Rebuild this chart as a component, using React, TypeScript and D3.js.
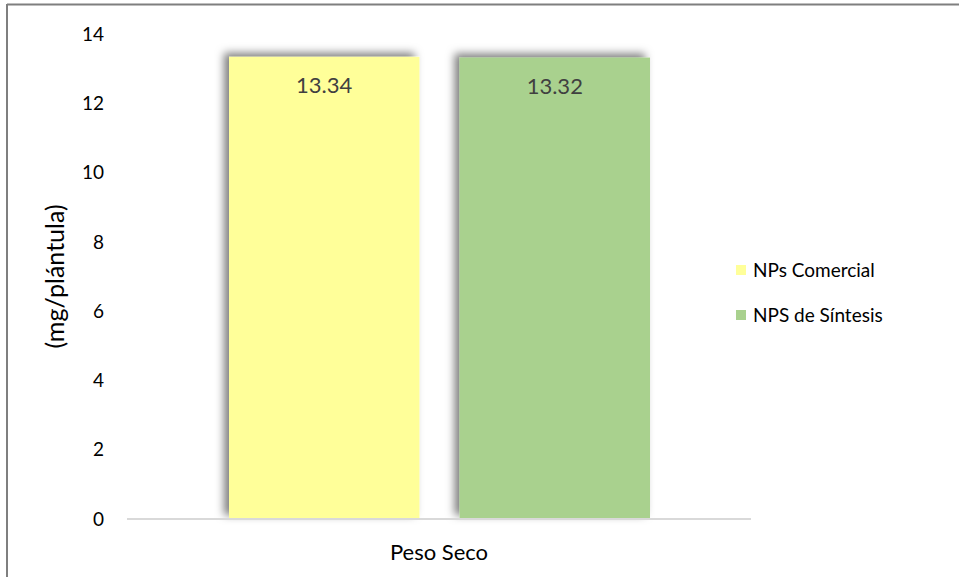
import React from "react";
import * as d3 from "d3";

const categories = ["Peso Seco"];
const seriesNames = ["NPs Comercial", "NPS de Síntesis"];
const seriesValues = [13.34, 13.32];
const seriesColors = ["#FFFF99", "#A9D18E"];
const yTicks = [0, 2, 4, 6, 8, 10, 12, 14];
const yTitle = "(mg/plántula)";

export default function App() {
  const W = 959, H = 577;
  const font = "Lato, 'Open Sans', sans-serif";
  const y = d3.scaleLinear().domain([0, 14]).range([519, 34]);
  const x0 = d3.scaleBand().domain(categories).range([127, 751]);
  const inner = d3.scaleBand().domain(seriesNames).range([229, 650]).paddingInner(0.174);
  return (
    <svg width={W} height={H} style={{ position: "absolute", left: 0, top: 0 }}>
      <defs>
        <filter id="sh" x="-20%" y="-20%" width="140%" height="140%">
          <feDropShadow dx="-5" dy="-4" stdDeviation="4" floodColor="#000" floodOpacity="0.5" />
        </filter>
      </defs>
      <rect x={0} y={0} width={W} height={H} fill="#fff" />
      <line x1={7} y1={4.5} x2={W} y2={4.5} stroke="#7f7f7f" strokeWidth={2} />
      <line x1={7} y1={4} x2={7} y2={H} stroke="#7f7f7f" strokeWidth={2} />
      {yTicks.map((t) => (
        <text key={t} x={104} y={y(t)} dy="0.35em" textAnchor="end" fontFamily={font} fontSize={19} fill="#000">
          {t}
        </text>
      ))}
      <text
        transform={`translate(64,${(y(0) + y(14)) / 2}) rotate(-90)`}
        textAnchor="middle"
        fontFamily={font}
        fontSize={25}
        fill="#000"
      >
        {yTitle}
      </text>
      {seriesNames.map((s, i) => (
        <g key={s}>
          <rect
            x={inner(s)!}
            y={y(seriesValues[i])}
            width={inner.bandwidth()}
            height={y(0) - y(seriesValues[i])}
            fill={seriesColors[i]}
            filter="url(#sh)"
          />
          <text
            x={inner(s)! + inner.bandwidth() / 2}
            y={y(seriesValues[i]) + 36}
            textAnchor="middle"
            fontFamily={font}
            fontSize={22}
            fill="#404040"
          >
            {seriesValues[i].toFixed(2)}
          </text>
        </g>
      ))}
      <line x1={x0.range()[0]} x2={x0.range()[1]} y1={519} y2={519} stroke="#d9d9d9" strokeWidth={2} />
      {categories.map((c) => (
        <text key={c} x={x0(c)! + x0.bandwidth() / 2} y={560} textAnchor="middle" fontFamily={font} fontSize={22} fill="#000">
          {c}
        </text>
      ))}
      {seriesNames.map((s, i) => (
        <g key={s} transform={`translate(736,${265 + i * 45})`}>
          <rect x={0} y={0} width={10} height={10} fill={seriesColors[i]} />
          <text x={17} y={5} dy="0.35em" fontFamily={font} fontSize={19} fill="#000">
            {s}
          </text>
        </g>
      ))}
    </svg>
  );
}
